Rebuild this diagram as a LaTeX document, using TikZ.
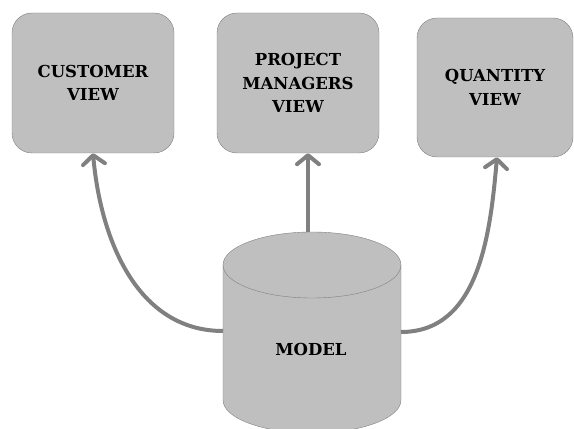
\documentclass[tikz,border=0pt]{standalone}
\usepackage{fontspec}
\setmainfont{DejaVu Serif}
\usetikzlibrary{arrows.meta}

\colorlet{boxfill}{black!25}
\colorlet{boxline}{black!50}
\colorlet{arrowcol}{black!50}

\begin{document}
\begin{tikzpicture}[x=1pt,y=1pt,
        view/.style={draw=boxline, fill=boxfill, rounded corners=20pt,
        minimum width=162pt, minimum height=140pt, align=center,
        font=\fontsize{16.5}{23.5}\selectfont\bfseries},
        link/.style={draw=arrowcol, line width=4pt,
        -{Straight Barb[length=9pt,width=22pt,round]}}
        ]
    \useasboundingbox (0,0) rectangle (574,429);
    \node[view] (customer) at (93,346) {CUSTOMER\\VIEW};
    \node[view] (project) at (298,346) {PROJECT\\MANAGERS\\VIEW};
    \node[view, minimum width=156pt, minimum height=139pt] (quantity) at (495,341.5) {QUANTITY\\VIEW};
    % the model cylinder
    \filldraw[draw=boxline, fill=boxfill] (223,164) -- (223,29)
        arc[start angle=180, end angle=360, x radius=89, y radius=33]
        -- (401,164) arc[start angle=0, end angle=180, x radius=89, y radius=33]
        -- cycle;
    \draw[boxline] (223,164) arc[start angle=180, end angle=360, x radius=89, y radius=33];
    \node[font=\fontsize{16.5}{23.5}\selectfont\bfseries] (model) at (311,80) {MODEL};
    \coordinate (modeltop) at (308,197);
    \coordinate (modelwest) at (223,98);
    \coordinate (modeleast) at (401,97);
    \draw [link] (modeltop) -- ([xshift=10pt]project.south);
    \draw [link] (modelwest) to[out=180,in=-85] (customer.south);
    \draw [link] (modeleast) to[out=0,in=-95] ([xshift=2pt]quantity.south);
\end{tikzpicture}
\end{document}
